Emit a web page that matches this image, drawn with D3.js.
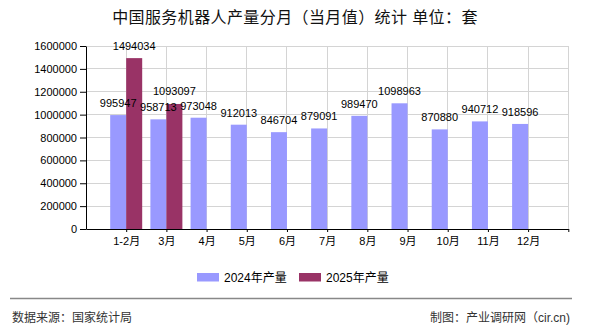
<!DOCTYPE html>
<html><head><meta charset="utf-8">
<script src="https://cdn.jsdelivr.net/npm/d3@7"></script>
<style>
body{margin:0;background:#fff;}
text{font-family:"Liberation Sans",Arial,"Noto Sans CJK SC",sans-serif;}
</style></head>
<body><svg id="c" width="590" height="330"></svg>
<script>
const categories = ["1-2月","3月","4月","5月","6月","7月","8月","9月","10月","11月","12月"];
const values2024 = [995947,958713,973048,912013,846704,879091,989470,1098963,870880,940712,918596];
const values2025 = [1494034,1093097];
const yTicks = [0,200000,400000,600000,800000,1000000,1200000,1400000,1600000];
const seriesNames = ["2024年产量","2025年产量"];
const colors = ["#9999ff","#993366"];

const svg = d3.select("#c");
const L = 86, R = 568.3, T = 46, B = 229;
const x = d3.scaleLinear().domain([-1, 11]).range([L, R]);
const y = d3.scaleLinear().domain([0, 1600000]).range([B, T]);
const bw = 16;

// title
svg.append("text").attr("x", 295).attr("y", 23).attr("text-anchor", "middle")
  .attr("font-size", 16).attr("fill", "#111").attr("letter-spacing", 0.4)
  .text("中国服务机器人产量分月（当月值）统计 单位：套");

// grid
const g = svg.append("g");
g.selectAll("line.h").data(yTicks.slice(1)).join("line")
  .attr("x1", L).attr("x2", R).attr("y1", d => y(d)).attr("y2", d => y(d))
  .attr("stroke", "#d4d4d4").attr("stroke-width", 1).attr("shape-rendering", "crispEdges");
g.selectAll("line.v").data(d3.range(0, 12)).join("line")
  .attr("x1", d => x(d)).attr("x2", d => x(d)).attr("y1", T).attr("y2", B)
  .attr("stroke", "#d4d4d4").attr("stroke-width", 1).attr("shape-rendering", "crispEdges");

// bars
svg.append("g").selectAll("rect").data(values2024).join("rect")
  .attr("x", (d, i) => x(i) - bw).attr("width", bw)
  .attr("y", d => y(d)).attr("height", d => B - y(d)).attr("fill", colors[0]);
svg.append("g").selectAll("rect").data(values2025).join("rect")
  .attr("x", (d, i) => x(i)).attr("width", bw)
  .attr("y", d => y(d)).attr("height", d => B - y(d)).attr("fill", colors[1]);

// labels
svg.append("g").selectAll("text").data(values2024).join("text")
  .attr("x", (d, i) => x(i) - bw / 2).attr("y", d => y(d) - 8)
  .attr("text-anchor", "middle").attr("font-size", 11).attr("fill", "#000").text(d => d);
svg.append("g").selectAll("text").data(values2025).join("text")
  .attr("x", (d, i) => x(i) + bw / 2).attr("y", d => y(d) - 8.5)
  .attr("text-anchor", "middle").attr("font-size", 11).attr("fill", "#000").text(d => d);

// y axis
const ya = svg.append("g").attr("transform", `translate(${L},0)`)
  .call(d3.axisLeft(y).tickValues(yTicks).tickFormat(d => d).tickSize(6).tickSizeOuter(0).tickPadding(3));
ya.select(".domain").attr("stroke", "#000");
ya.selectAll(".tick line").attr("stroke", "#000");
ya.selectAll("text").attr("font-size", 11).attr("fill", "#000").attr("font-family", '"Liberation Sans",Arial,sans-serif');

// x axis
const xa = svg.append("g").attr("transform", `translate(0,${B})`)
  .call(d3.axisBottom(x).tickValues(d3.range(0, 12)).tickFormat(i => categories[i] || "").tickSize(3).tickSizeOuter(0).tickPadding(5));
xa.select(".domain").attr("stroke", "#000");
xa.selectAll(".tick line").attr("stroke", "#000");
xa.selectAll("text").attr("font-size", 11).attr("fill", "#000").attr("font-family", '"Liberation Sans",Arial,"Noto Sans CJK SC",sans-serif');

// legend
const lg = svg.append("g");
const lx = [197, 299];
seriesNames.forEach((n, i) => {
  lg.append("rect").attr("x", lx[i]).attr("y", 273).attr("width", 22).attr("height", 8.5).attr("fill", colors[i]);
  lg.append("text").attr("x", lx[i] + 27).attr("y", 282).attr("font-size", 12).attr("fill", "#000").text(n);
});

// footer
svg.append("line").attr("x1", 10).attr("x2", 572).attr("y1", 298.5).attr("y2", 298.5)
  .attr("stroke", "#888").attr("stroke-width", 1.3);
svg.append("text").attr("x", 12).attr("y", 322).attr("font-size", 12).attr("fill", "#333").text("数据来源：国家统计局");
svg.append("text").attr("x", 570).attr("y", 322).attr("font-size", 12).attr("fill", "#333").attr("text-anchor", "end").text("制图：产业调研网（cir.cn)");
</script></body></html>
